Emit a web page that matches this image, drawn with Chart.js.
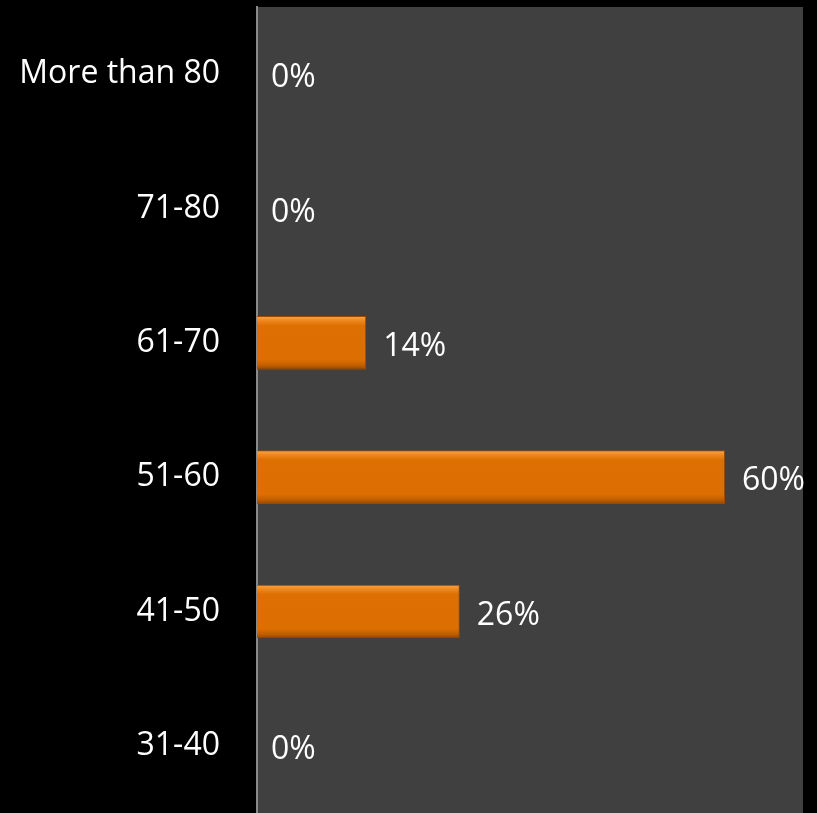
<!DOCTYPE html>
<html>
<head>
<meta charset="utf-8">
<script src="https://cdn.jsdelivr.net/npm/chart.js@4"></script>
<style>
  html, body { margin: 0; padding: 0; background: #000; }
  #wrap { width: 817px; height: 813px; }
</style>
</head>
<body>
<div id="wrap"><canvas id="age-chart" width="817" height="813"></canvas></div>
<script>
const ageGroups = ["More than 80", "71-80", "61-70", "51-60", "41-50", "31-40"];
const shares = [0, 0, 14, 60, 26, 0];
const valueLabels = ["0%", "0%", "14%", "60%", "26%", "0%"];

const FONT = "'Open Sans', 'Noto Sans', sans-serif";

// fondo gris del área de trazado
const plotBg = {
  id: "plotBg",
  beforeDraw(chart) {
    const { ctx, chartArea: a } = chart;
    ctx.save();
    ctx.fillStyle = "#404040";
    ctx.fillRect(a.left, a.top, a.right - a.left, a.bottom - a.top);
    ctx.restore();
  }
};

// etiquetas de valor a la derecha de cada barra
const valueText = {
  id: "valueText",
  afterDatasetsDraw(chart) {
    const { ctx } = chart;
    const meta = chart.getDatasetMeta(0);
    ctx.save();
    ctx.fillStyle = "#ffffff";
    ctx.font = "32px " + FONT;
    ctx.textAlign = "left";
    ctx.textBaseline = "middle";
    meta.data.forEach((bar, i) => {
      const gap = shares[i] > 0 ? 17 : 14;
      ctx.fillText(valueLabels[i], bar.x + gap, bar.y + 4);
    });
    ctx.restore();
  }
};

function barFill(c) {
  const chart = c.chart;
  if (!chart.chartArea) return "#DC6E02";
  const y = chart.scales.y.getPixelForValue(c.dataIndex);
  const h = 27;
  const g = chart.ctx.createLinearGradient(0, y - h, 0, y + h);
  g.addColorStop(0, "#F9AA50");
  g.addColorStop(0.08, "#F08A20");
  g.addColorStop(0.18, "#DE7002");
  g.addColorStop(0.82, "#DC6E02");
  g.addColorStop(0.92, "#C05E00");
  g.addColorStop(1, "#8E4400");
  return g;
}

new Chart(document.getElementById("age-chart"), {
  type: "bar",
  data: {
    labels: ageGroups,
    datasets: [{
      data: shares,
      backgroundColor: barFill,
      borderColor: "#9A4A00",
      borderWidth: 1,
      categoryPercentage: 1,
      barPercentage: 0.4
    }]
  },
  options: {
    indexAxis: "y",
    responsive: false,
    animation: false,
    layout: { padding: { top: 7, right: 14, bottom: 0, left: 0 } },
    plugins: { legend: { display: false }, tooltip: { enabled: false } },
    scales: {
      x: { display: false, min: 0, max: 70 },
      y: {
        afterFit: s => { s.width = 257; s.paddingTop = 0; s.paddingBottom = 0; },
        grid: { display: false, drawTicks: false },
        border: { display: true, color: "#8a8a8a", width: 2 },
        ticks: { color: "#ffffff", padding: 37, font: { family: FONT, size: 32 } }
      }
    }
  },
  plugins: [plotBg, valueText]
});
</script>
</body>
</html>
